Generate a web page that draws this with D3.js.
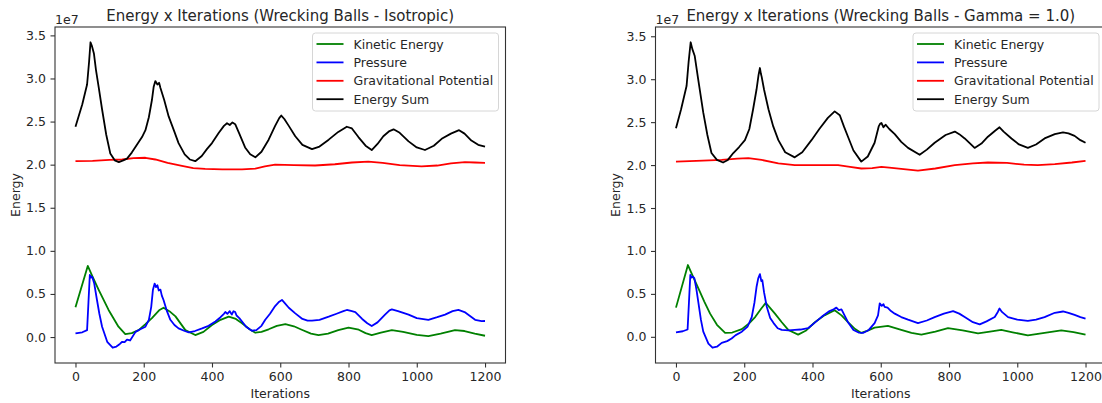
<!DOCTYPE html>
<html>
<head>
<meta charset="utf-8">
<script src="https://cdn.jsdelivr.net/npm/d3@7/dist/d3.min.js"></script>
<style>
  body { margin:0; background:#fff; }
  svg text { font-family: "DejaVu Sans", sans-serif; fill:#262626; }
</style>
</head>
<body>
<div id="chart"></div>
<script>
// values in units of 1e7, [iteration, energy]
var seriesNames = ["Kinetic Energy", "Pressure", "Gravitational Potential", "Energy Sum"];
var seriesColors = ["#008000", "#0000ff", "#ff0000", "#000000"];
var xTicks = [0, 200, 400, 600, 800, 1000, 1200];
var yTicks = [0, 0.5, 1.0, 1.5, 2.0, 2.5, 3.0, 3.5];

var isoKinetic = [[0,0.345],[36,0.825],[50,0.70],[68,0.547],[97,0.314],[126,0.12],[146,0.035],[165,0.045],[185,0.08],[205,0.15],[224,0.22],[245,0.31],[258,0.34],[275,0.30],[293,0.24],[322,0.08],[351,0.023],[375,0.06],[400,0.14],[425,0.20],[449,0.236],[470,0.21],[488,0.16],[510,0.09],[527,0.05],[545,0.06],[566,0.09],[590,0.13],[615,0.15],[640,0.125],[663,0.085],[690,0.04],[712,0.023],[740,0.04],[770,0.08],[800,0.11],[830,0.085],[850,0.045],[868,0.023],[895,0.05],[927,0.08],[960,0.06],[1000,0.025],[1034,0.01],[1070,0.04],[1112,0.08],[1140,0.07],[1170,0.04],[1200,0.015]];
var isoPressure = [[0,0.043],[20,0.055],[34,0.08],[38,0.4],[42,0.72],[46,0.69],[49,0.70],[55,0.62],[63,0.43],[70,0.27],[78,0.12],[93,-0.055],[109,-0.124],[120,-0.11],[130,-0.08],[137,-0.055],[144,-0.06],[151,-0.03],[160,-0.04],[176,0.06],[190,0.09],[205,0.12],[215,0.2],[222,0.35],[227,0.55],[232,0.62],[236,0.58],[240,0.6],[244,0.54],[249,0.55],[253,0.48],[258,0.43],[268,0.30],[278,0.20],[290,0.14],[302,0.10],[320,0.07],[332,0.055],[350,0.07],[371,0.10],[390,0.13],[410,0.18],[425,0.23],[435,0.27],[439,0.29],[445,0.27],[452,0.30],[458,0.26],[463,0.30],[468,0.29],[472,0.25],[480,0.22],[488,0.18],[500,0.12],[517,0.073],[530,0.08],[545,0.13],[556,0.2],[570,0.27],[585,0.36],[597,0.41],[605,0.43],[612,0.40],[625,0.34],[644,0.275],[665,0.21],[680,0.19],[693,0.19],[715,0.2],[742,0.236],[765,0.27],[785,0.30],[795,0.314],[810,0.30],[820,0.29],[840,0.21],[855,0.16],[868,0.128],[885,0.17],[907,0.26],[920,0.31],[927,0.32],[945,0.30],[976,0.26],[1000,0.22],[1034,0.2],[1060,0.23],[1083,0.26],[1105,0.30],[1122,0.314],[1140,0.29],[1171,0.2],[1190,0.185],[1200,0.186]];
var isoGravity = [[0,2.04],[50,2.045],[100,2.055],[137,2.06],[170,2.075],[205,2.08],[234,2.06],[270,2.02],[312,1.985],[345,1.96],[380,1.95],[430,1.945],[488,1.945],[527,1.955],[555,1.98],[585,2.0],[640,1.995],[702,1.99],[760,2.005],[810,2.025],[858,2.035],[900,2.02],[950,1.995],[1014,1.98],[1060,1.99],[1100,2.015],[1141,2.03],[1170,2.025],[1200,2.02]];
var isoSum = [[0,2.44],[20,2.7],[34,2.93],[40,3.2],[44,3.42],[48,3.38],[54,3.29],[60,3.1],[68,2.9],[78,2.64],[90,2.35],[102,2.13],[115,2.05],[127,2.03],[140,2.05],[151,2.07],[165,2.14],[180,2.23],[195,2.32],[205,2.40],[215,2.55],[224,2.75],[229,2.9],[234,2.97],[240,2.93],[245,2.95],[249,2.89],[260,2.75],[273,2.56],[290,2.38],[302,2.25],[320,2.12],[335,2.06],[351,2.04],[370,2.1],[385,2.18],[400,2.25],[420,2.37],[435,2.45],[444,2.48],[452,2.46],[460,2.49],[468,2.47],[480,2.36],[497,2.20],[512,2.12],[527,2.085],[545,2.15],[566,2.29],[585,2.45],[597,2.54],[603,2.57],[612,2.53],[625,2.45],[644,2.33],[665,2.23],[693,2.18],[715,2.21],[742,2.29],[770,2.38],[795,2.44],[810,2.42],[829,2.32],[850,2.22],[868,2.17],[885,2.24],[902,2.33],[920,2.39],[932,2.41],[950,2.37],[976,2.27],[1000,2.2],[1024,2.17],[1050,2.22],[1073,2.30],[1100,2.36],[1124,2.40],[1140,2.36],[1160,2.28],[1180,2.23],[1200,2.21]];

var gamKinetic = [[0,0.34],[35,0.836],[50,0.70],[66,0.56],[83,0.41],[100,0.27],[120,0.14],[144,0.045],[165,0.05],[193,0.09],[215,0.16],[232,0.23],[250,0.33],[263,0.395],[275,0.34],[290,0.27],[310,0.17],[329,0.08],[358,0.025],[380,0.07],[407,0.17],[435,0.25],[465,0.31],[485,0.25],[504,0.17],[525,0.09],[543,0.045],[560,0.07],[582,0.107],[621,0.127],[660,0.08],[690,0.045],[719,0.025],[760,0.06],[797,0.10],[840,0.075],[885,0.04],[920,0.06],[953,0.08],[990,0.05],[1031,0.017],[1080,0.045],[1129,0.075],[1165,0.055],[1200,0.025]];
var gamPressure = [[0,0.053],[20,0.065],[34,0.085],[38,0.4],[42,0.72],[46,0.69],[50,0.70],[54,0.68],[60,0.55],[66,0.39],[73,0.2],[80,0.06],[95,-0.08],[107,-0.127],[120,-0.115],[134,-0.07],[150,-0.05],[163,-0.02],[175,0.02],[193,0.06],[210,0.12],[222,0.23],[230,0.4],[236,0.58],[241,0.68],[246,0.73],[250,0.65],[253,0.66],[258,0.52],[266,0.35],[276,0.22],[286,0.16],[298,0.10],[310,0.08],[330,0.075],[348,0.08],[365,0.085],[387,0.10],[405,0.16],[426,0.23],[450,0.30],[462,0.32],[470,0.34],[477,0.31],[485,0.32],[495,0.24],[504,0.17],[520,0.08],[535,0.05],[548,0.045],[565,0.08],[582,0.16],[592,0.25],[597,0.39],[603,0.36],[608,0.38],[611,0.35],[620,0.34],[630,0.30],[641,0.27],[660,0.23],[680,0.2],[709,0.16],[735,0.19],[758,0.23],[785,0.27],[812,0.30],[830,0.27],[846,0.23],[870,0.17],[890,0.145],[910,0.18],[934,0.23],[943,0.29],[948,0.33],[955,0.29],[973,0.23],[1000,0.2],[1031,0.185],[1055,0.2],[1080,0.23],[1110,0.28],[1134,0.295],[1150,0.28],[1168,0.255],[1185,0.23],[1200,0.213]];
var gamGravity = [[0,2.04],[60,2.05],[134,2.06],[180,2.075],[212,2.08],[251,2.06],[300,2.02],[348,2.0],[420,2.0],[475,2.0],[510,1.98],[543,1.96],[575,1.965],[602,1.98],[625,1.97],[660,1.955],[709,1.935],[760,1.96],[817,2.0],[870,2.02],[914,2.03],[970,2.025],[1020,2.005],[1060,2.0],[1110,2.01],[1160,2.03],[1200,2.05]];
var gamSum = [[0,2.43],[15,2.65],[31,2.92],[37,3.2],[43,3.43],[48,3.35],[55,3.27],[65,3.0],[80,2.61],[92,2.35],[104,2.14],[120,2.06],[138,2.03],[152,2.06],[168,2.14],[185,2.21],[202,2.29],[215,2.42],[226,2.65],[236,2.88],[242,3.05],[246,3.13],[249,3.06],[251,3.03],[258,2.88],[271,2.65],[285,2.45],[300,2.29],[320,2.15],[348,2.09],[370,2.15],[397,2.29],[420,2.42],[445,2.55],[465,2.625],[480,2.58],[492,2.45],[504,2.33],[520,2.17],[543,2.04],[562,2.1],[582,2.26],[594,2.45],[598,2.48],[602,2.49],[608,2.44],[614,2.47],[625,2.42],[641,2.36],[660,2.27],[680,2.2],[714,2.12],[735,2.18],[758,2.26],[790,2.35],[817,2.39],[830,2.36],[846,2.31],[875,2.20],[895,2.25],[914,2.33],[935,2.40],[948,2.44],[960,2.39],[983,2.31],[1005,2.24],[1031,2.2],[1055,2.24],[1080,2.31],[1110,2.36],[1134,2.38],[1150,2.37],[1168,2.34],[1185,2.29],[1200,2.26]];

var width = 1102,
    height = 403;
var fontSmall = "12.5px",
    fontTitle = "15px";

var svg = d3.select("#chart")
    .append("svg")
    .attr("width", width)
    .attr("height", height);

function drawPanel(left, title, series) {
    var top = 27, bottom = 363, right = left + 450.5;
    var g = svg.append("g");

    var all = d3.merge(series);
    var xMin = 0, xMax = 1200;
    var yMin = d3.min(all, function(d){ return d[1] }),
        yMax = d3.max(all, function(d){ return d[1] });
    var xPad = (xMax - xMin) * 0.05, yPad = (yMax - yMin) * 0.05;

    var x = d3.scaleLinear().domain([xMin - xPad, xMax + xPad]).range([left, right]);
    var y = d3.scaleLinear().domain([yMin - yPad, yMax + yPad]).range([bottom, top]);

    var xAxis = g.append("g")
        .attr("transform", "translate(0," + bottom + ")")
        .call(d3.axisBottom(x).tickValues(xTicks).tickSize(4.5).tickPadding(4.5).tickFormat(d3.format("d")));
    var yAxis = g.append("g")
        .attr("transform", "translate(" + left + ",0)")
        .call(d3.axisLeft(y).tickValues(yTicks).tickSize(4.5).tickPadding(4.5).tickFormat(d3.format(".1f")));
    [xAxis, yAxis].forEach(function(a){
        a.select(".domain").remove();
        a.selectAll("line").attr("stroke", "#333").attr("stroke-width", 1.1);
        a.selectAll("text").style("font-size", fontSmall).attr("fill", "#262626");
    });

    var line = d3.line()
        .x(function(d){ return x(d[0]) })
        .y(function(d){ return y(d[1]) });

    series.forEach(function(s, i){
        g.append("path")
            .datum(s)
            .attr("d", line)
            .attr("fill", "none")
            .attr("stroke", seriesColors[i])
            .attr("stroke-width", 1.8)
            .attr("stroke-linejoin", "round");
    });

    g.append("rect")
        .attr("x", left).attr("y", top)
        .attr("width", right - left).attr("height", bottom - top)
        .attr("fill", "none")
        .attr("stroke", "#333")
        .attr("stroke-width", 1.1);

    g.append("text")
        .attr("x", (left + right) / 2).attr("y", 21)
        .attr("text-anchor", "middle")
        .style("font-size", fontTitle)
        .text(title);

    g.append("text")
        .attr("x", left).attr("y", 24)
        .style("font-size", fontSmall)
        .text("1e7");

    g.append("text")
        .attr("x", (left + right) / 2).attr("y", 397.5)
        .attr("text-anchor", "middle")
        .style("font-size", fontSmall)
        .text("Iterations");

    g.append("text")
        .attr("transform", "translate(" + (left - 35.5) + "," + ((top + bottom) / 2) + ") rotate(-90)")
        .attr("text-anchor", "middle")
        .style("font-size", fontSmall)
        .text("Energy");

    // legend
    var lw = 186, lh = 78;
    var lx = right - 7 - lw, ly = top + 6;
    var legend = g.append("g");
    legend.append("rect")
        .attr("x", lx).attr("y", ly)
        .attr("width", lw).attr("height", lh)
        .attr("rx", 3)
        .attr("fill", "#fff").attr("fill-opacity", 0.8)
        .attr("stroke", "#d6d6d6").attr("stroke-width", 1);
    seriesNames.forEach(function(name, i){
        var ry = ly + 11 + i * 18.4;
        legend.append("line")
            .attr("x1", lx + 4).attr("x2", lx + 31)
            .attr("y1", ry).attr("y2", ry)
            .attr("stroke", seriesColors[i]).attr("stroke-width", 1.8);
        legend.append("text")
            .attr("x", lx + 41).attr("y", ry + 4.5)
            .style("font-size", fontSmall)
            .text(name);
    });
}

drawPanel(55, "Energy x Iterations (Wrecking Balls - Isotropic)", [isoKinetic, isoPressure, isoGravity, isoSum]);
drawPanel(655.5, "Energy x Iterations (Wrecking Balls - Gamma = 1.0)", [gamKinetic, gamPressure, gamGravity, gamSum]);
</script>
</body>
</html>
